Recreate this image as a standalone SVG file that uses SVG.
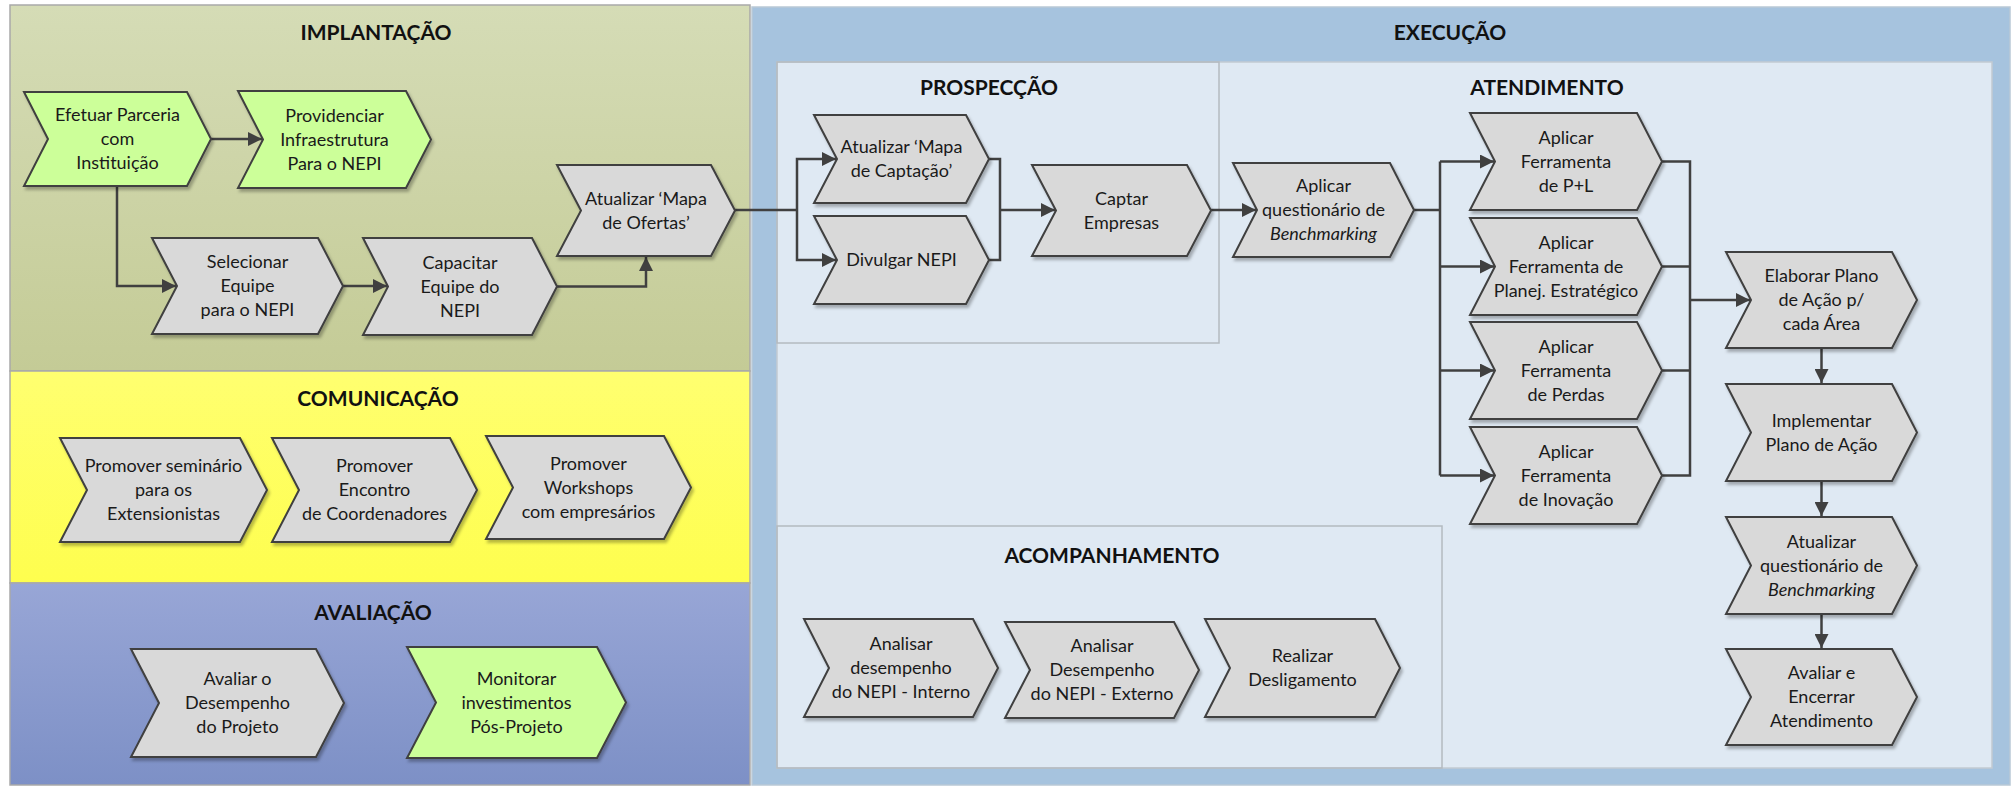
<svg xmlns="http://www.w3.org/2000/svg" width="2015" height="787" viewBox="0 0 2015 787">
  <defs>
    <linearGradient id="gImpl" x1="0" y1="0" x2="0" y2="1">
      <stop offset="0" stop-color="#d5dcb6"/>
      <stop offset="1" stop-color="#c4cb96"/>
    </linearGradient>
    <linearGradient id="gCom" x1="0" y1="0" x2="0" y2="1">
      <stop offset="0" stop-color="#ffff70"/>
      <stop offset="1" stop-color="#fefe4e"/>
    </linearGradient>
    <linearGradient id="gAval" x1="0" y1="0" x2="0" y2="1">
      <stop offset="0" stop-color="#98a6d6"/>
      <stop offset="1" stop-color="#7d90c6"/>
    </linearGradient>
    <filter id="shadow" x="-10%" y="-10%" width="125%" height="130%">
      <feDropShadow dx="2" dy="3" stdDeviation="1.5" flood-color="#000" flood-opacity="0.28"/>
    </filter>
    <marker id="arrow" markerUnits="userSpaceOnUse" markerWidth="15" markerHeight="14" refX="14" refY="7" orient="auto">
      <path d="M0,0 L14,7 L0,14 z" fill="#404040"/>
    </marker>
  </defs>
  <style>
    .chev { stroke: #3f3f3f; stroke-width: 2; stroke-linejoin: miter; filter: url(#shadow); }
    .gray { fill: #d9d9d9; }
    .green { fill: #ccff99; }
    .t { font-family: Lato, "Liberation Sans", sans-serif; font-size: 18px; fill: #1a1a1a; text-anchor: middle; }
    .i { font-style: italic; }
    .h { font-family: Lato, "Liberation Sans", sans-serif; font-size: 21px; font-weight: bold; fill: #111; text-anchor: middle; }
    .ln { fill: none; stroke: #404040; stroke-width: 2.5; }
    .arr { marker-end: url(#arrow); }
    .box { fill: none; stroke: #b4bac0; stroke-width: 1.5; }
  </style>

  <rect width="2015" height="787" fill="#ffffff"/>

  <!-- left column: three stacked phases -->
  <g id="sec-implantacao">
    <rect x="10" y="5" width="740" height="366" fill="url(#gImpl)" stroke="#a9a9a9" stroke-width="1.5"/>
    <text class="h" x="376" y="40">IMPLANTAÇÃO</text>
  </g>
  <g id="sec-comunicacao">
    <rect x="10" y="371" width="740" height="212" fill="url(#gCom)" stroke="#a9a9a9" stroke-width="1.5"/>
    <text class="h" x="378" y="406">COMUNICAÇÃO</text>
  </g>
  <g id="sec-avaliacao">
    <rect x="10" y="583" width="740" height="202" fill="url(#gAval)" stroke="#a9a9a9" stroke-width="1.5"/>
    <text class="h" x="373" y="620">AVALIAÇÃO</text>
  </g>

  <!-- right column: execution phase with its sub-areas -->
  <g id="sec-execucao">
    <rect x="752" y="7" width="1258" height="778" fill="#a6c3de" stroke="#b9c9d6" stroke-width="1.5"/>
    <text class="h" x="1450" y="40">EXECUÇÃO</text>
    <rect x="777" y="62" width="1215" height="706" fill="#dfe9f3" stroke="#c2cad2" stroke-width="1.5"/>
  </g>
  <g id="sec-prospeccao">
    <rect class="box" x="777" y="62" width="442" height="281"/>
    <text class="h" x="989" y="95">PROSPECÇÃO</text>
  </g>
  <g id="sec-atendimento">
    <text class="h" x="1547" y="95">ATENDIMENTO</text>
  </g>
  <g id="sec-acompanhamento">
    <rect class="box" x="777" y="526" width="665" height="242"/>
    <text class="h" x="1112" y="563">ACOMPANHAMENTO</text>
  </g>

  <!-- connectors -->
  <g id="connectors">
    <path class="ln arr" d="M211,139 H262"/>
    <path class="ln arr" d="M117,186 V286 H176"/>
    <path class="ln arr" d="M343,286 H387"/>
    <path class="ln arr" d="M557,286.5 H646 V257"/>
    <path class="ln" d="M735,210 H797"/>
    <path class="ln arr" d="M797,210 V159 H836"/>
    <path class="ln arr" d="M797,210 V260 H836"/>
    <path class="ln" d="M989,159 H1000 V260 H989"/>
    <path class="ln arr" d="M1000,210 H1055"/>
    <path class="ln arr" d="M1211,210 H1256"/>
    <path class="ln" d="M1414,210 H1440"/>
    <path class="ln" d="M1440,161.5 V475.5"/>
    <path class="ln arr" d="M1440,161.5 H1494"/>
    <path class="ln arr" d="M1440,266.5 H1494"/>
    <path class="ln arr" d="M1440,370.5 H1494"/>
    <path class="ln arr" d="M1440,475.5 H1494"/>
    <path class="ln" d="M1662,161.5 H1690 V475.5 H1662"/>
    <path class="ln" d="M1662,266.5 H1690"/>
    <path class="ln" d="M1662,370.5 H1690"/>
    <path class="ln arr" d="M1690,300 H1750"/>
    <path class="ln arr" d="M1821.5,348 V383"/>
    <path class="ln arr" d="M1821.5,481 V516"/>
    <path class="ln arr" d="M1821.5,614 V648"/>
  </g>

  <!-- IMPLANTAÇÃO -->
  <g id="n-efetuar">
    <polygon class="chev green" points="24,92 187,92 211,139 187,186 24,186 48,139"/>
    <text class="t" x="117.5" y="121">Efetuar Parceria</text>
    <text class="t" x="117.5" y="145">com</text>
    <text class="t" x="117.5" y="169">Instituição</text>
  </g>
  <g id="n-providenciar">
    <polygon class="chev green" points="238,91 406,91 431,139.5 406,188 238,188 263,139.5"/>
    <text class="t" x="334.5" y="121.5">Providenciar</text>
    <text class="t" x="334.5" y="145.5">Infraestrutura</text>
    <text class="t" x="334.5" y="169.5">Para o NEPI</text>
  </g>
  <g id="n-selecionar">
    <polygon class="chev gray" points="152,238 318,238 343,286 318,334 152,334 177,286"/>
    <text class="t" x="247.5" y="268">Selecionar</text>
    <text class="t" x="247.5" y="292">Equipe</text>
    <text class="t" x="247.5" y="316">para o NEPI</text>
  </g>
  <g id="n-capacitar">
    <polygon class="chev gray" points="363,238 532,238 557,286.5 532,335 363,335 388,286.5"/>
    <text class="t" x="460" y="268.5">Capacitar</text>
    <text class="t" x="460" y="292.5">Equipe do</text>
    <text class="t" x="460" y="316.5">NEPI</text>
  </g>
  <g id="n-ofertas">
    <polygon class="chev gray" points="557,165 711,165 735,210.5 711,256 557,256 581,210.5"/>
    <text class="t" x="646" y="204.5">Atualizar ‘Mapa</text>
    <text class="t" x="646" y="228.5">de Ofertas’</text>
  </g>

  <!-- COMUNICAÇÃO -->
  <g id="n-seminario">
    <polygon class="chev gray" points="60,438 240,438 267,490 240,542 60,542 87,490"/>
    <text class="t" x="163.5" y="472">Promover seminário</text>
    <text class="t" x="163.5" y="496">para os</text>
    <text class="t" x="163.5" y="520">Extensionistas</text>
  </g>
  <g id="n-encontro">
    <polygon class="chev gray" points="272,438 450,438 477,490 450,542 272,542 299,490"/>
    <text class="t" x="374.5" y="472">Promover</text>
    <text class="t" x="374.5" y="496">Encontro</text>
    <text class="t" x="374.5" y="520">de Coordenadores</text>
  </g>
  <g id="n-workshops">
    <polygon class="chev gray" points="486,436 664,436 691,487.5 664,539 486,539 513,487.5"/>
    <text class="t" x="588.5" y="469.5">Promover</text>
    <text class="t" x="588.5" y="493.5">Workshops</text>
    <text class="t" x="588.5" y="517.5">com empresários</text>
  </g>

  <!-- AVALIAÇÃO -->
  <g id="n-avaliar">
    <polygon class="chev gray" points="131,649 316,649 344,703 316,757 131,757 159,703"/>
    <text class="t" x="237.5" y="685">Avaliar o</text>
    <text class="t" x="237.5" y="709">Desempenho</text>
    <text class="t" x="237.5" y="733">do Projeto</text>
  </g>
  <g id="n-monitorar">
    <polygon class="chev green" points="407,647 597,647 626,702.5 597,758 407,758 436,702.5"/>
    <text class="t" x="516.5" y="684.5">Monitorar</text>
    <text class="t" x="516.5" y="708.5">investimentos</text>
    <text class="t" x="516.5" y="732.5">Pós-Projeto</text>
  </g>

  <!-- PROSPECÇÃO -->
  <g id="n-captacao">
    <polygon class="chev gray" points="814,115 966,115 989,159 966,203 814,203 837,159"/>
    <text class="t" x="901.5" y="153">Atualizar ‘Mapa</text>
    <text class="t" x="901.5" y="177">de Captação’</text>
  </g>
  <g id="n-divulgar">
    <polygon class="chev gray" points="814,216 966,216 989,260 966,304 814,304 837,260"/>
    <text class="t" x="901.5" y="266">Divulgar NEPI</text>
  </g>
  <g id="n-captar">
    <polygon class="chev gray" points="1032,165 1187,165 1211,210.5 1187,256 1032,256 1056,210.5"/>
    <text class="t" x="1121.5" y="204.5">Captar</text>
    <text class="t" x="1121.5" y="228.5">Empresas</text>
  </g>

  <!-- ATENDIMENTO -->
  <g id="n-questionario">
    <polygon class="chev gray" points="1233,163 1390,163 1414,210 1390,257 1233,257 1257,210"/>
    <text class="t" x="1323.5" y="192">Aplicar</text>
    <text class="t" x="1323.5" y="216">questionário de</text>
    <text class="t i" x="1323.5" y="240">Benchmarking</text>
  </g>
  <g id="n-pl">
    <polygon class="chev gray" points="1470,113 1637,113 1662,161.5 1637,210 1470,210 1495,161.5"/>
    <text class="t" x="1566" y="143.5">Aplicar</text>
    <text class="t" x="1566" y="167.5">Ferramenta</text>
    <text class="t" x="1566" y="191.5">de P+L</text>
  </g>
  <g id="n-planej">
    <polygon class="chev gray" points="1470,218 1637,218 1662,266.5 1637,315 1470,315 1495,266.5"/>
    <text class="t" x="1566" y="248.5">Aplicar</text>
    <text class="t" x="1566" y="272.5">Ferramenta de</text>
    <text class="t" x="1566" y="296.5">Planej. Estratégico</text>
  </g>
  <g id="n-perdas">
    <polygon class="chev gray" points="1470,322 1637,322 1662,370.5 1637,419 1470,419 1495,370.5"/>
    <text class="t" x="1566" y="352.5">Aplicar</text>
    <text class="t" x="1566" y="376.5">Ferramenta</text>
    <text class="t" x="1566" y="400.5">de Perdas</text>
  </g>
  <g id="n-inovacao">
    <polygon class="chev gray" points="1470,427 1637,427 1662,475.5 1637,524 1470,524 1495,475.5"/>
    <text class="t" x="1566" y="457.5">Aplicar</text>
    <text class="t" x="1566" y="481.5">Ferramenta</text>
    <text class="t" x="1566" y="505.5">de Inovação</text>
  </g>
  <g id="n-elaborar">
    <polygon class="chev gray" points="1726,252 1892,252 1917,300 1892,348 1726,348 1751,300"/>
    <text class="t" x="1821.5" y="282">Elaborar Plano</text>
    <text class="t" x="1821.5" y="306">de Ação p/</text>
    <text class="t" x="1821.5" y="330">cada Área</text>
  </g>
  <g id="n-implementar">
    <polygon class="chev gray" points="1726,384 1892,384 1917,432.5 1892,481 1726,481 1751,432.5"/>
    <text class="t" x="1821.5" y="426.5">Implementar</text>
    <text class="t" x="1821.5" y="450.5">Plano de Ação</text>
  </g>
  <g id="n-atualizar-questionario">
    <polygon class="chev gray" points="1726,517 1892,517 1917,565.5 1892,614 1726,614 1751,565.5"/>
    <text class="t" x="1821.5" y="547.5">Atualizar</text>
    <text class="t" x="1821.5" y="571.5">questionário de</text>
    <text class="t i" x="1821.5" y="595.5">Benchmarking</text>
  </g>
  <g id="n-encerrar">
    <polygon class="chev gray" points="1726,649 1892,649 1917,697 1892,745 1726,745 1751,697"/>
    <text class="t" x="1821.5" y="679">Avaliar e</text>
    <text class="t" x="1821.5" y="703">Encerrar</text>
    <text class="t" x="1821.5" y="727">Atendimento</text>
  </g>

  <!-- ACOMPANHAMENTO -->
  <g id="n-interno">
    <polygon class="chev gray" points="804,619 973,619 998,668 973,717 804,717 829,668"/>
    <text class="t" x="901" y="650">Analisar</text>
    <text class="t" x="901" y="674">desempenho</text>
    <text class="t" x="901" y="698">do NEPI - Interno</text>
  </g>
  <g id="n-externo">
    <polygon class="chev gray" points="1005,622 1174,622 1199,670 1174,718 1005,718 1030,670"/>
    <text class="t" x="1102" y="652">Analisar</text>
    <text class="t" x="1102" y="676">Desempenho</text>
    <text class="t" x="1102" y="700">do NEPI - Externo</text>
  </g>
  <g id="n-desligamento">
    <polygon class="chev gray" points="1205,619 1375,619 1400,668 1375,717 1205,717 1230,668"/>
    <text class="t" x="1302.5" y="662">Realizar</text>
    <text class="t" x="1302.5" y="686">Desligamento</text>
  </g>
</svg>
